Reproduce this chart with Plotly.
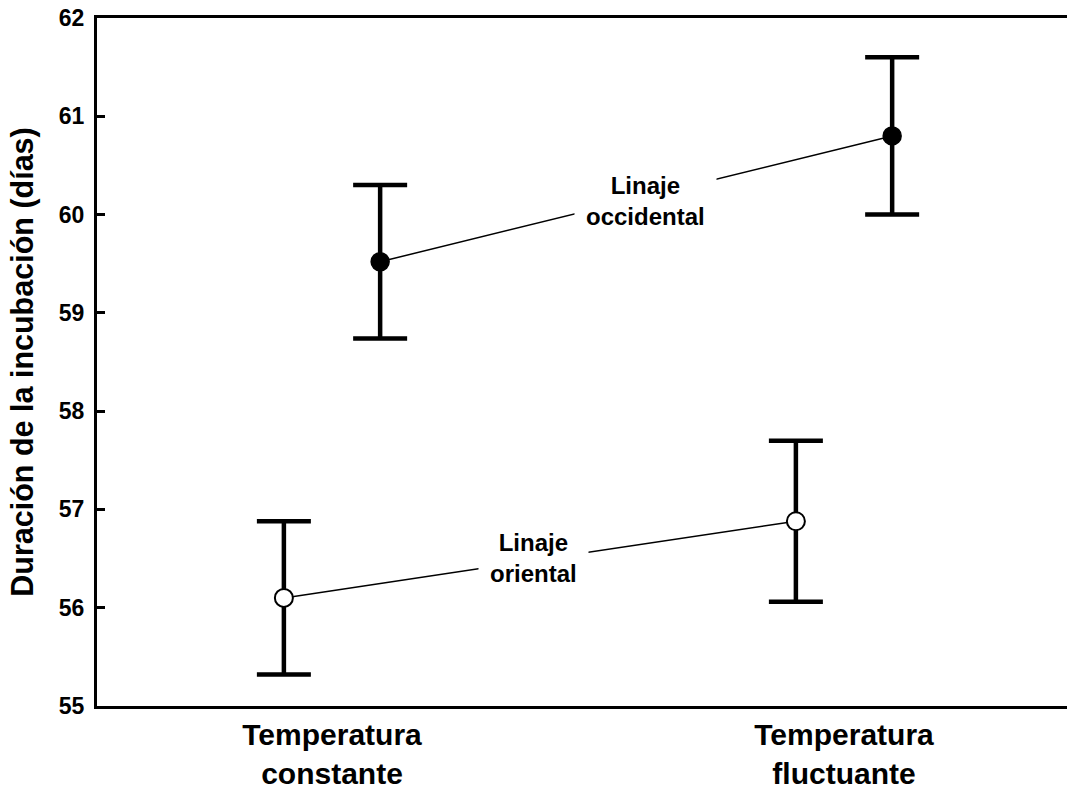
import plotly.graph_objects as go

categories = ["Temperatura<br>constante", "Temperatura<br>fluctuante"]
cat_pos = [0, 1]
offset = 0.094

y_ticks = [55, 56, 57, 58, 59, 60, 61, 62]

occ_mean = [59.52, 60.80]
occ_err = [0.78, 0.80]
ori_mean = [56.10, 56.88]
ori_err = [0.78, 0.82]

FONT = "Liberation Sans, Arial, sans-serif"

occ_x = [p + offset for p in cat_pos]
ori_x = [p - offset for p in cat_pos]

fig = go.Figure()

# connecting lines
fig.add_trace(go.Scatter(x=occ_x, y=occ_mean, mode="lines",
                         line=dict(color="black", width=1.5), hoverinfo="skip", showlegend=False))
fig.add_trace(go.Scatter(x=ori_x, y=ori_mean, mode="lines",
                         line=dict(color="black", width=1.5), hoverinfo="skip", showlegend=False))

# points with error bars
fig.add_trace(go.Scatter(x=occ_x, y=occ_mean, mode="markers", name="Linaje occidental",
                         marker=dict(size=18, color="black", line=dict(color="black", width=1.5)),
                         error_y=dict(type="data", array=occ_err, visible=True,
                                      color="black", thickness=4.5, width=27),
                         showlegend=False))
fig.add_trace(go.Scatter(x=ori_x, y=ori_mean, mode="markers", name="Linaje oriental",
                         marker=dict(size=18, color="white", line=dict(color="black", width=2)),
                         error_y=dict(type="data", array=ori_err, visible=True,
                                      color="black", thickness=4.5, width=27),
                         showlegend=False))

ann_font = dict(family=FONT, size=24, color="black")
fig.add_annotation(x=0.613, y=60.14, text="<b>Linaje<br>occidental</b>", showarrow=False,
                   font=ann_font, bgcolor="white", borderpad=11, xref="x", yref="y")
fig.add_annotation(x=0.393, y=56.505, text="<b>Linaje<br>oriental</b>", showarrow=False,
                   font=ann_font, bgcolor="white", borderpad=11, xref="x", yref="y")

fig.update_layout(
    width=1067, height=790,
    margin=dict(l=97, r=0, t=18, b=79),
    plot_bgcolor="white", paper_bgcolor="white",
    font=dict(family=FONT, color="black"),
    showlegend=False,
)

fig.update_xaxes(
    range=[-0.459, 1.4355],
    tickvals=cat_pos, ticktext=["<b>" + c.replace("<br>", "</b><br><b>") + "</b>" for c in categories],
    tickfont=dict(family=FONT, size=30, color="black"),
    ticks="", showline=True, linecolor="black", linewidth=3, mirror=True,
    showgrid=False, zeroline=False,
)
fig.update_yaxes(
    range=[55, 62],
    tickvals=y_ticks, ticktext=["<b>%d</b>" % v for v in y_ticks],
    ticks="inside", ticklen=8, tickwidth=3, tickcolor="black",
    tickfont=dict(family=FONT, size=23, color="black"),
    ticklabelstandoff=5,
    showline=True, linecolor="black", linewidth=3, mirror=False,
    showgrid=False, zeroline=False,
    title=dict(text="<b>Duración de la incubación (días)</b>",
               font=dict(family=FONT, size=30.5, color="black"),
               standoff=17),
    automargin=False,
)

fig.write_html("out.html")
